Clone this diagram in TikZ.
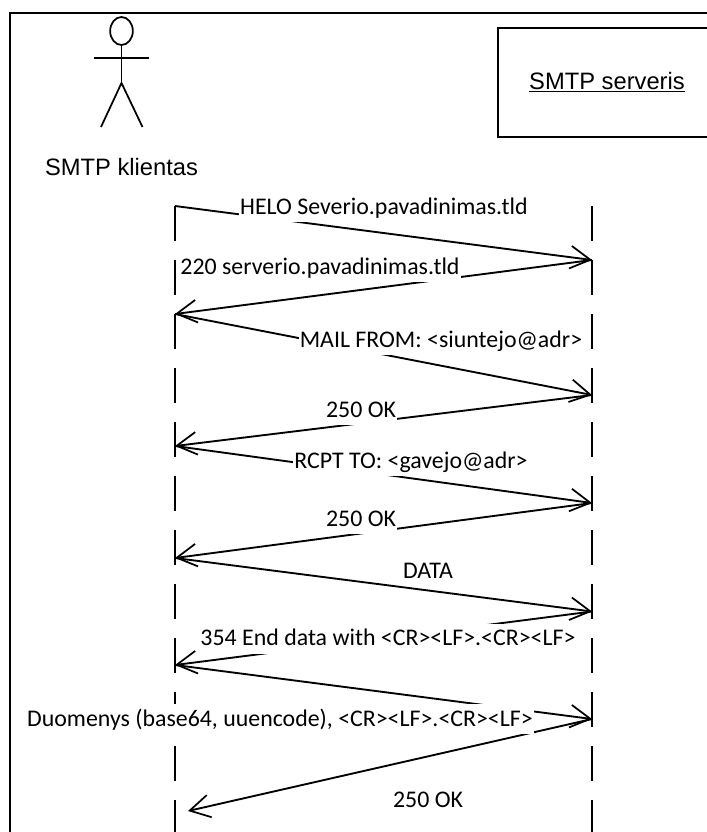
\documentclass[tikz,border=0pt]{standalone}
\usepackage{fontspec}
\setmainfont{Liberation Sans}
\newfontfamily\labfont{Carlito}
\usetikzlibrary{arrows.meta,shapes.geometric}
\tikzset{
 px/.style={x=0.75pt,y=-0.75pt},
 msg/.style={draw=black,line width=1.4pt,-{Straight Barb[length=15pt,width=17pt,line width=1.3pt]}},
 life/.style={draw=black,line width=1.1pt,dash pattern=on 26.25pt off 14.25pt},
 lab/.style={fill=white,inner xsep=1pt,inner ysep=0pt,text height=16.5pt,text depth=6pt,font=\labfont\fontsize{17.9pt}{20pt}\selectfont,anchor=base},
 head/.style={font=\fontsize{17.8pt}{20pt}\selectfont,anchor=base,inner sep=0pt},
 shapeline/.style={draw=black,line width=1.3pt}
}
\begin{document}
\begin{tikzpicture}[px]
\useasboundingbox (0,0) rectangle (707,832);
\draw[line width=1.9pt] (710,13) -- (10,13) -- (10,835);
% actor
\node[shapeline,ellipse,minimum width=17pt,minimum height=21pt,inner sep=0pt] (hd) at (121.5,31) {};
\coordinate (hip) at (121.5,83);
\draw[shapeline] (hd.south) -- (hip);
\coordinate (al) at (94,58); \coordinate (ar) at (149,58);
\draw[shapeline] (al) -- (ar);
\coordinate (fl) at (101,127); \coordinate (fr) at (142.5,127);
\draw[shapeline] (fl) -- (hip) -- (fr);
\node[head] (cl) at (121.5,175) {SMTP klientas};
% server
\coordinate (sbl) at (498,137); \coordinate (str) at (715,28);
\draw[shapeline] (sbl) rectangle (str);
\node[head] (srvt) at (607,89) {\underline{SMTP serveris}};
% lifelines
\coordinate (ct) at (175,206); \coordinate (cbot) at (175,832);
\coordinate (st) at (592,206); \coordinate (sbot) at (592,832);
\draw[life] (ct) -- (cbot);
\draw[life] (st) -- (sbot);
% endpoints
\foreach \n/\y in {a/206,b/314,c/446,d/558,e/665}{\coordinate (c\n) at (175,\y);}
\foreach \n/\y in {a/260,b/395,c/503,d/611.5,e/719}{\coordinate (s\n) at (592,\y);}
\coordinate (f) at (188,811);
\draw[msg] (ca) -- (sa);
\draw[msg] (sa) -- (cb);
\draw[msg] (cb) -- (sb);
\draw[msg] (sb) -- (cc);
\draw[msg] (cc) -- (sc);
\draw[msg] (sc) -- (cd);
\draw[msg] (cd) -- (sd);
\draw[msg] (sd) -- (ce);
\draw[msg] (ce) -- (se);
\draw[msg] (se) -- (f);
% labels
\node[lab] (l1) at (384,214) {HELO Severio.pavadinimas.tld};
\node[lab] (l2) at (320,274) {220 serverio.pavadinimas.tld};
\node[lab] (l3) at (441,347) {MAIL FROM: <siuntejo@adr>};
\node[lab] (l4) at (361,417) {250 OK};
\node[lab] (l5) at (411,468) {RCPT TO: <gavejo@adr>};
\node[lab] (l6) at (361,526) {250 OK};
\node[lab] (l7) at (428,578) {DATA};
\node[lab] (l8) at (388,645.5) {354 End data with <CR><LF>.<CR><LF>};
\node[lab] (l9) at (280,726) {Duomenys (base64, uuencode), <CR><LF>.<CR><LF>};
\node[lab] (l10) at (428,807) {250 OK};
\end{tikzpicture}
\end{document}
